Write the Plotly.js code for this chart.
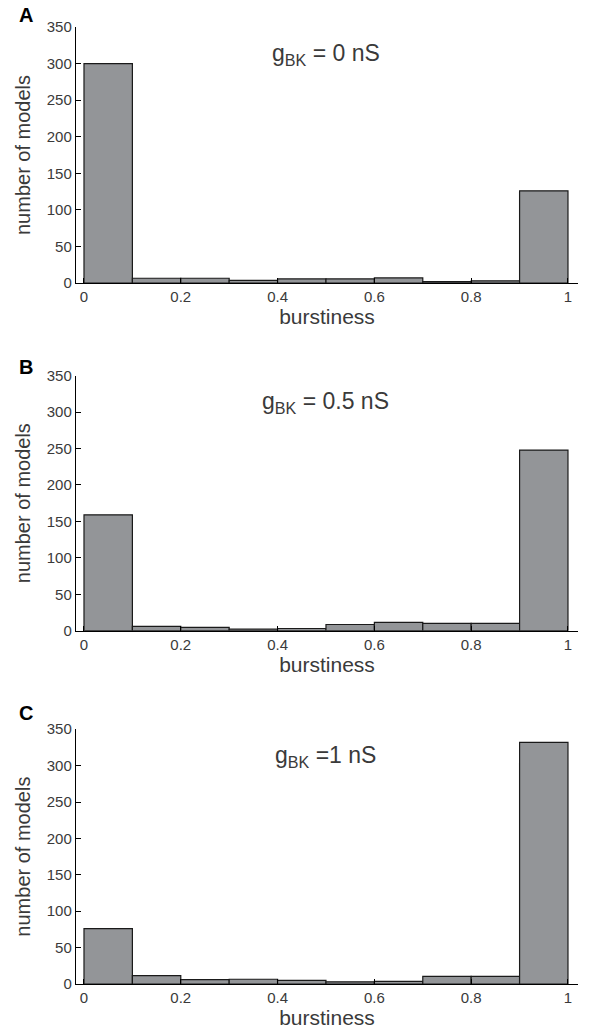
<!DOCTYPE html>
<html>
<head>
<meta charset="utf-8">
<script src="https://cdn.plot.ly/plotly-3.0.1.min.js"></script>
<style>
html,body{margin:0;padding:0;background:#fff;}
#chart{width:596px;height:1034px;}
</style>
</head>
<body>
<div id="chart"></div>
<script>
// Bin centres of the burstiness histogram (bins of width 0.1)
const binCenters = [0.05, 0.15, 0.25, 0.35, 0.45, 0.55, 0.65, 0.75, 0.85, 0.95];
// Counts per bin for each BK conductance
const countsA = [300, 6.5, 6.5, 3.5, 5.5, 5.5, 7, 2, 3, 126];
const countsB = [159, 6, 4.5, 2, 3, 8.5, 11.5, 10, 10, 248];
const countsC = [76, 11.5, 6, 6.5, 5, 3, 3.5, 10.5, 10.5, 332];
const panelLetters = ['A', 'B', 'C'];
const panelLabels = ['g<sub>BK</sub> = 0 nS', 'g<sub>BK</sub> = 0.5 nS', 'g<sub>BK</sub> =1 nS'];
const xTickVals = [0, 0.2, 0.4, 0.6, 0.8, 1];
const xTickText = ['0', '0.2', '0.4', '0.6', '0.8', '1'];
const yTickVals = [0, 50, 100, 150, 200, 250, 300, 350];

const series = [countsA, countsB, countsC];
const domains = [[0.7325, 1], [0.3692, 0.6356], [0, 0.2662]];
const letterY = [1.0125, 0.6447, 0.2832];
const txtColor = '#3a3a3a';
const fontFam = 'Liberation Sans, Arial, Helvetica, sans-serif';

const traces = series.map((vals, i) => ({
  type: 'bar',
  x: binCenters,
  y: vals,
  width: 0.1,
  marker: {color: '#939598', line: {color: '#1a1a1a', width: 1.2}},
  xaxis: i === 0 ? 'x' : 'x' + (i + 1),
  yaxis: i === 0 ? 'y' : 'y' + (i + 1),
  hoverinfo: 'x+y',
  showlegend: false
}));

const layout = {
  width: 596, height: 1034,
  margin: {l: 76, r: 18, t: 27, b: 50},
  paper_bgcolor: '#fff', plot_bgcolor: '#fff',
  font: {family: fontFam, color: txtColor, size: 15},
  bargap: 0,
  showlegend: false,
  annotations: []
};

for (let i = 0; i < 3; i++) {
  const sx = i === 0 ? '' : String(i + 1);
  layout['xaxis' + sx] = {
    domain: [0, 1],
    anchor: 'y' + sx,
    range: [-0.0165, 1.0207],
    tickmode: 'array', tickvals: xTickVals, ticktext: xTickText,
    ticks: 'inside', ticklen: 5, tickwidth: 1, tickcolor: '#000',
    showline: true, linecolor: '#000', linewidth: 1.2,
    showgrid: false, zeroline: false,
    tickfont: {size: 15, color: txtColor},
    title: {text: 'burstiness', font: {size: 21, color: txtColor}, standoff: 3},
    fixedrange: true
  };
  layout['yaxis' + sx] = {
    domain: domains[i],
    anchor: 'x' + sx,
    range: [0, 350],
    tickmode: 'array', tickvals: yTickVals,
    ticks: 'inside', ticklen: 5, tickwidth: 1, tickcolor: '#000',
    showline: true, linecolor: '#000', linewidth: 1.2,
    showgrid: false, zeroline: false,
    tickfont: {size: 15, color: txtColor},
    title: {text: 'number of models', font: {size: 20, color: txtColor}, standoff: 10},
    fixedrange: true
  };
  layout.annotations.push({
    xref: 'x' + sx, yref: 'y' + sx,
    x: 0.5, y: 313,
    text: panelLabels[i],
    showarrow: false,
    font: {size: 23, color: txtColor}
  });
  layout.annotations.push({
    xref: 'paper', yref: 'paper',
    x: -0.1, y: letterY[i],
    xanchor: 'center', yanchor: 'middle',
    text: '<b>' + panelLetters[i] + '</b>',
    showarrow: false,
    font: {size: 20, color: '#000'}
  });
}

Plotly.newPlot('chart', traces, layout, {displayModeBar: false, staticPlot: true});
</script>
</body>
</html>
